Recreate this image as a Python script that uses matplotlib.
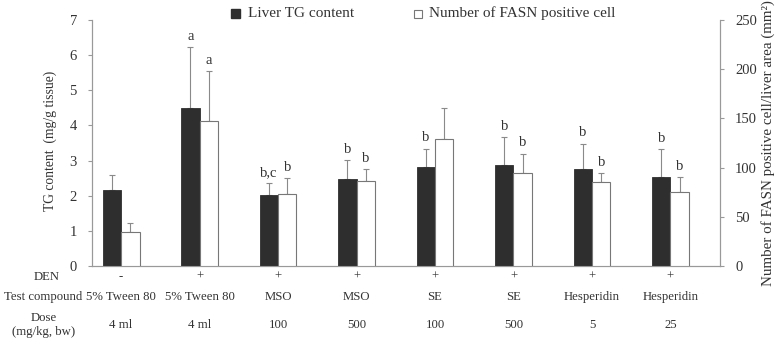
import matplotlib
matplotlib.use("Agg")
import matplotlib.pyplot as plt
import matplotlib.transforms as mtransforms
import numpy as np
from matplotlib.patches import Rectangle

plt.rcParams['font.family'] = ['Liberation Serif', 'DejaVu Serif']

den = ["-", "+", "+", "+", "+", "+", "+", "+"]
compound = ["5% Tween 80", "5% Tween 80", "MSO", "MSO", "SE", "SE", "Hesperidin", "Hesperidin"]
dose = ["4 ml", "4 ml", "100", "500", "100", "500", "5", "25"]
tg = [2.16, 4.50, 2.01, 2.47, 2.81, 2.88, 2.76, 2.54]
tg_err = [0.44, 1.74, 0.35, 0.55, 0.53, 0.79, 0.72, 0.78]
fasn = [35, 147, 73, 86, 129, 94.5, 85, 75]
fasn_err = [9, 51, 16, 12.5, 31.5, 19.5, 9.5, 15]
tg_labels = ["", "a", "b,c", "b", "b", "b", "b", "b"]
fasn_labels = ["", "a", "b", "b", "", "b", "b", "b"]

fig = plt.figure(figsize=(7.78, 3.41), dpi=100)
ax = fig.add_axes([0.1183, 0.22, 0.807, 0.7213])
ax2 = ax.twinx()

x = np.arange(len(tg))
w = 0.235
dark = "#2e2e2e"
ecol = "#8a8a8a"
txtc = "#333333"
ax.bar(x - w/2, tg, w, color=dark, edgecolor=dark, linewidth=0.6, zorder=3)
ax.errorbar(x - w/2, tg, yerr=[np.zeros(len(tg)), tg_err], fmt="none",
            ecolor=ecol, elinewidth=0.8, capsize=2.5, capthick=0.8, zorder=2)
ax2.bar(x + w/2, fasn, w, color="white", edgecolor="#777777", linewidth=0.8, zorder=3)
ax2.errorbar(x + w/2, fasn, yerr=[np.zeros(len(fasn)), fasn_err], fmt="none",
             ecolor=ecol, elinewidth=0.8, capsize=2.5, capthick=0.8, zorder=2)

ax.set_xlim(-0.37, 7.63)
ax.set_ylim(0, 7)
ax2.set_ylim(0, 250)
ax.set_yticks(range(0, 8))
ax2.set_yticks(range(0, 251, 50))
ax.set_xticks([])

for a in (ax, ax2):
    a.spines['top'].set_visible(False)
    for s in ('left', 'right', 'bottom'):
        a.spines[s].set_color("#999999")
        a.spines[s].set_linewidth(0.8)
    a.tick_params(axis='y', colors="#999999", labelcolor=txtc, labelsize=10.5, length=3, width=0.8, pad=8)

for i in range(len(tg)):
    if tg_labels[i]:
        ax.text(x[i] - w/2, tg[i] + tg_err[i] + 0.12, tg_labels[i], ha='center', va='bottom', fontsize=10.5, color=txtc)
    if fasn_labels[i]:
        ax2.text(x[i] + w/2, fasn[i] + fasn_err[i] + 4.5, fasn_labels[i], ha='center', va='bottom', fontsize=10.5, color=txtc)

ax.set_ylabel("TG content  (mg/g tissue)", fontsize=9.8, color=txtc)
ax.yaxis.set_label_coords(-0.056, 0.51)
ax2.set_ylabel("Number of FASN positive cell/liver area (mm²)", fontsize=10.8, color=txtc, rotation=90)
ax2.yaxis.set_label_coords(1.066, 0.50)

# table rows below
rows_y = [1 - 277/341, 1 - 297/341, 1 - 325/341]
fs = 9.2
fig.text(47/778, rows_y[0], "DEN", ha='center', va='center', fontsize=fs, color=txtc)
fig.text(43/778, rows_y[1], "Test compound", ha='center', va='center', fontsize=fs, color=txtc)
fig.text(44/778, rows_y[2], "Dose\n(mg/kg, bw)", ha='center', va='center', fontsize=fs, color=txtc, linespacing=1.25)
blend = mtransforms.blended_transform_factory(ax.transData, fig.transFigure)
for i in range(len(tg)):
    ax.text(x[i], rows_y[0], den[i], transform=blend, ha='center', va='center', fontsize=fs, color=txtc)
    ax.text(x[i], rows_y[1], compound[i], transform=blend, ha='center', va='center', fontsize=fs, color=txtc)
    ax.text(x[i], rows_y[2], dose[i], transform=blend, ha='center', va='center', fontsize=fs, color=txtc)

# legend
fig.patches.append(Rectangle((231/778, 1 - 18/341), 9/778, 9/341, transform=fig.transFigure,
                             facecolor=dark, edgecolor=dark))
fig.text(248/778, 1 - 13.5/341, "Liver TG content", ha='left', va='center', fontsize=11, color=txtc)
fig.patches.append(Rectangle((414/778, 1 - 18/341), 8/778, 8/341, transform=fig.transFigure,
                             facecolor="white", edgecolor="#777777", linewidth=0.8))
fig.text(429/778, 1 - 13.5/341, "Number of FASN positive cell", ha='left', va='center', fontsize=11, color=txtc)

fig.savefig("out.png", dpi=100)
